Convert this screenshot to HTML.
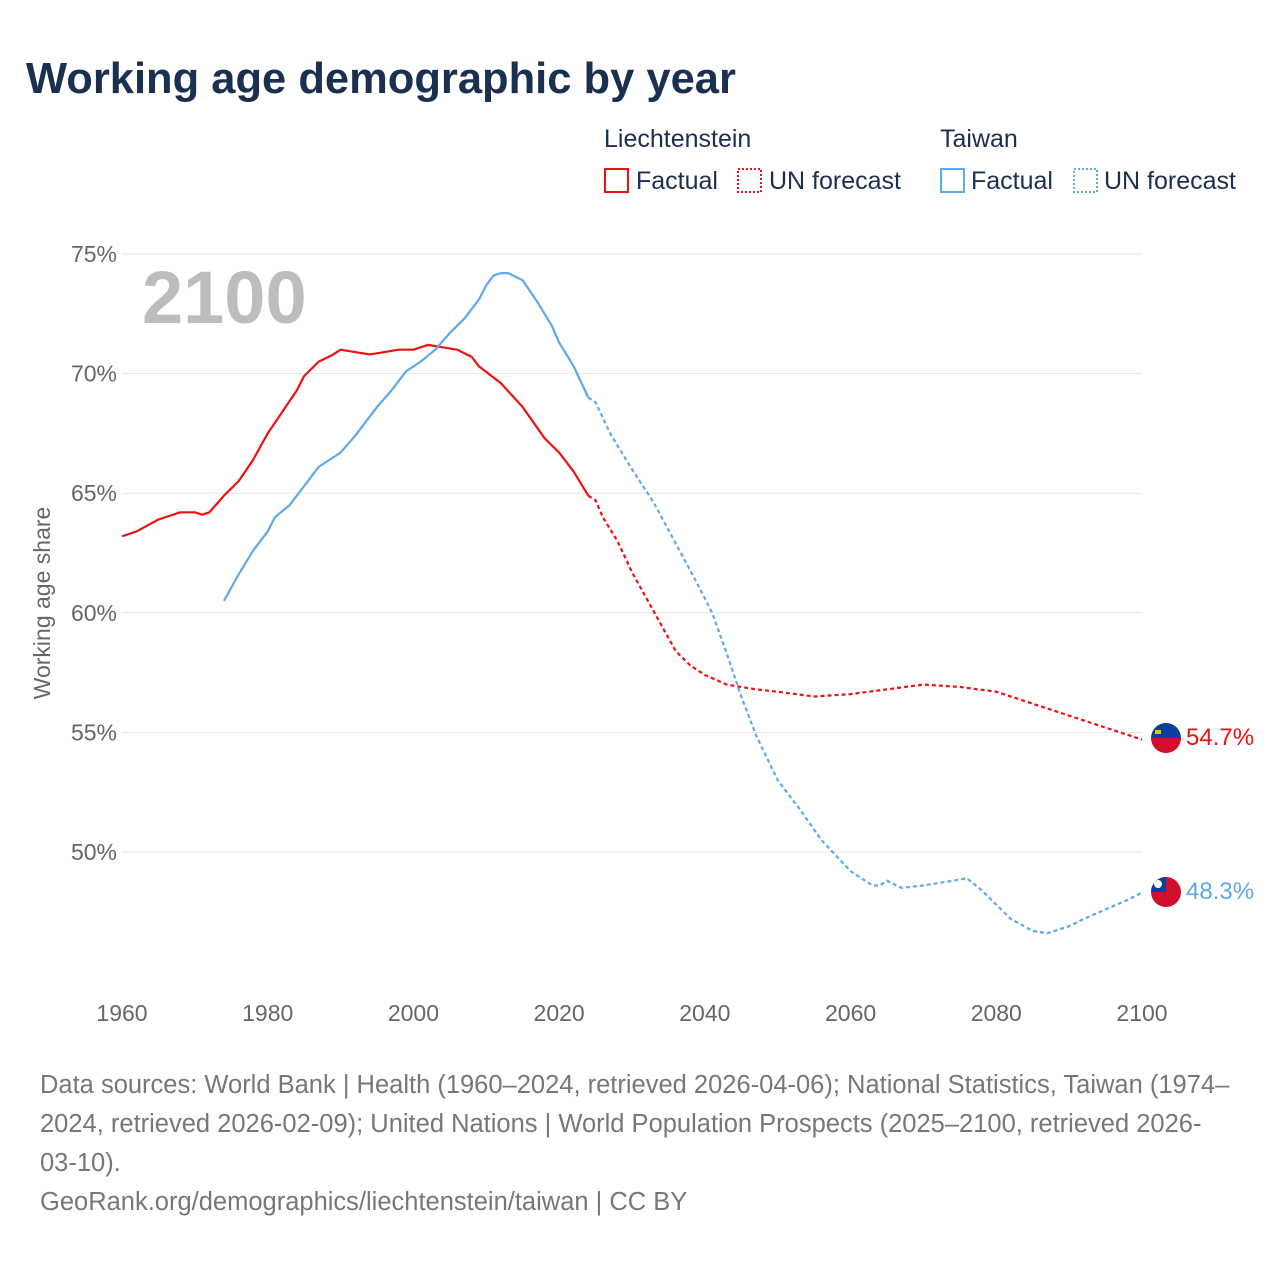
<!DOCTYPE html>
<html><head><meta charset="utf-8"><style>
body{margin:0;background:#fff;font-family:"Liberation Sans",sans-serif;}
#wrap{position:relative;width:1280px;height:1280px;overflow:hidden;}
</style></head><body>
<div id="wrap">
<svg id="chart" width="1280" height="1280" xmlns="http://www.w3.org/2000/svg">
<text x="26" y="93" font-size="43.5" font-weight="bold" fill="#1b2f50">Working age demographic by year</text>
<g font-size="25" fill="#1b2f50">
<text x="604" y="147">Liechtenstein</text>
<text x="940" y="147">Taiwan</text>
<g><rect x="605" y="169" width="23" height="23" fill="none" stroke="#ee1111" stroke-width="2"/><text x="636" y="189">Factual</text></g>
<g><rect x="738" y="169" width="23" height="23" fill="none" stroke="#ee1111" stroke-width="2" stroke-dasharray="2,2"/><text x="769" y="189">UN forecast</text></g>
<g><rect x="941" y="169" width="23" height="23" fill="none" stroke="#5ea8ec" stroke-width="2"/><text x="971" y="189">Factual</text></g>
<g><rect x="1074" y="169" width="23" height="23" fill="none" stroke="#5ea8ec" stroke-width="2" stroke-dasharray="2,2"/><text x="1104" y="189">UN forecast</text></g>
</g>
<g id="grid"></g>
<g id="yticks" font-size="23" fill="#666" text-anchor="end"></g>
<g id="xticks" font-size="23" fill="#666" text-anchor="middle"></g>
<text x="0" y="0" transform="translate(50,603) rotate(-90)" font-size="23" fill="#666" text-anchor="middle">Working age share</text>
<text x="142" y="323" font-size="74" font-weight="bold" fill="#bdbdbd">2100</text>
<g id="series"></g>
<g>
<clipPath id="c1"><circle cx="1166" cy="738" r="15"/></clipPath>
<g clip-path="url(#c1)"><rect x="1150" y="722" width="32" height="16" fill="#0a3fa0"/><rect x="1150" y="738" width="32" height="16" fill="#d0102a"/><rect x="1155" y="730" width="6" height="4" fill="#f4c400"/></g></g>
<g>
<clipPath id="c2"><circle cx="1166" cy="892" r="15"/></clipPath>
<g clip-path="url(#c2)"><rect x="1150" y="876" width="32" height="32" fill="#d0102a"/><rect x="1150" y="876" width="16" height="16" fill="#0a3fa0"/><circle cx="1158" cy="884" r="4" fill="#fff"/></g></g>
<text x="1186" y="745" font-size="24" fill="#ee1111">54.7%</text>
<text x="1186" y="899" font-size="24" fill="#5ea8ec">48.3%</text>
<g font-size="25.5" fill="#777">
<text x="40" y="1093">Data sources: World Bank | Health (1960–2024, retrieved 2026-04-06); National Statistics, Taiwan (1974–</text>
<text x="40" y="1132">2024, retrieved 2026-02-09); United Nations | World Population Prospects (2025–2100, retrieved 2026-</text>
<text x="40" y="1171">03-10).</text>
<text x="40" y="1210">GeoRank.org/demographics/liechtenstein/taiwan | CC BY</text>
</g>
</svg>
</div>
<script>
const yTicks=[50,55,60,65,70,75];
const xTicks=[1960,1980,2000,2020,2040,2060,2080,2100];
const liYearsF=[1960,1962,1965,1968,1970,1971,1972,1974,1976,1978,1980,1982,1984,1985,1987,1989,1990,1992,1994,1996,1998,2000,2002,2004,2006,2008,2009,2012,2015,2018,2020,2022,2024];
const liValsF=[63.2,63.4,63.9,64.2,64.2,64.1,64.2,64.9,65.5,66.4,67.5,68.4,69.3,69.9,70.5,70.8,71.0,70.9,70.8,70.9,71.0,71.0,71.2,71.1,71.0,70.7,70.3,69.6,68.6,67.3,66.7,65.9,64.9];
const liYearsP=[2024,2025,2026,2028,2030,2032,2034,2036,2038,2040,2043,2047,2050,2055,2060,2065,2070,2075,2080,2085,2090,2095,2100];
const liValsP=[64.9,64.7,64.0,63.0,61.7,60.6,59.5,58.4,57.8,57.4,57.0,56.8,56.7,56.5,56.6,56.8,57.0,56.9,56.7,56.2,55.7,55.2,54.7];
const twYearsF=[1974,1976,1978,1980,1981,1983,1985,1987,1990,1992,1995,1997,1999,2001,2003,2005,2007,2009,2010,2011,2012,2013,2015,2017,2019,2020,2022,2024];
const twValsF=[60.5,61.6,62.6,63.4,64.0,64.5,65.3,66.1,66.7,67.4,68.6,69.3,70.1,70.5,71.0,71.7,72.3,73.1,73.7,74.1,74.2,74.2,73.9,73.0,72.0,71.3,70.3,69.0];
const twYearsP=[2024,2025,2027,2030,2033,2036,2039,2041,2043,2045,2047,2050,2053,2056,2060,2063,2064,2065,2067,2070,2072,2076,2078,2080,2082,2085,2087,2090,2092,2095,2098,2100];
const twValsP=[69.0,68.8,67.5,66.0,64.6,62.9,61.2,60.0,58.3,56.5,54.9,53.0,51.8,50.5,49.2,48.6,48.6,48.8,48.5,48.6,48.7,48.9,48.4,47.8,47.2,46.7,46.6,46.9,47.2,47.6,48.0,48.3];
const NS='http://www.w3.org/2000/svg';
const xS=y=>122+(y-1960)*(1020/140);
const yS=v=>852-(v-50)*(598/25);
const grid=document.getElementById('grid'),yt=document.getElementById('yticks'),xt=document.getElementById('xticks'),ser=document.getElementById('series');
yTicks.forEach(t=>{
 const l=document.createElementNS(NS,'line');
 l.setAttribute('x1',122);l.setAttribute('x2',1142);l.setAttribute('y1',yS(t));l.setAttribute('y2',yS(t));
 l.setAttribute('stroke','#e6e6e6');l.setAttribute('stroke-width','1');
 
 
 grid.appendChild(l);
 const tx=document.createElementNS(NS,'text');
 tx.setAttribute('x',117);tx.setAttribute('y',yS(t)+8);tx.textContent=t+'%';
 
 
 yt.appendChild(tx);
});
xTicks.forEach(t=>{
 const tx=document.createElementNS(NS,'text');
 tx.setAttribute('x',xS(t));tx.setAttribute('y',1021);tx.textContent=t;
 
 
 xt.appendChild(tx);
});
function line(xs,vs,color,dash,name){
 const p=document.createElementNS(NS,'polyline');
 p.setAttribute('points',xs.map((x,i)=>xS(x)+','+yS(vs[i])).join(' '));
 p.setAttribute('fill','none');p.setAttribute('stroke',color);p.setAttribute('stroke-width','2.2');
 p.setAttribute('stroke-linejoin','round');
 if(dash)p.setAttribute('stroke-dasharray','4,3');
 
 
 ser.appendChild(p);
}
line(liYearsF,liValsF,'#ee1111',false,'line-liechtenstein-factual');
line(liYearsP,liValsP,'#ee1111',true,'line-liechtenstein-forecast');
line(twYearsF,twValsF,'#5ea8ec',false,'line-taiwan-factual');
line(twYearsP,twValsP,'#5ea8ec',true,'line-taiwan-forecast');
</script>
</body></html>
